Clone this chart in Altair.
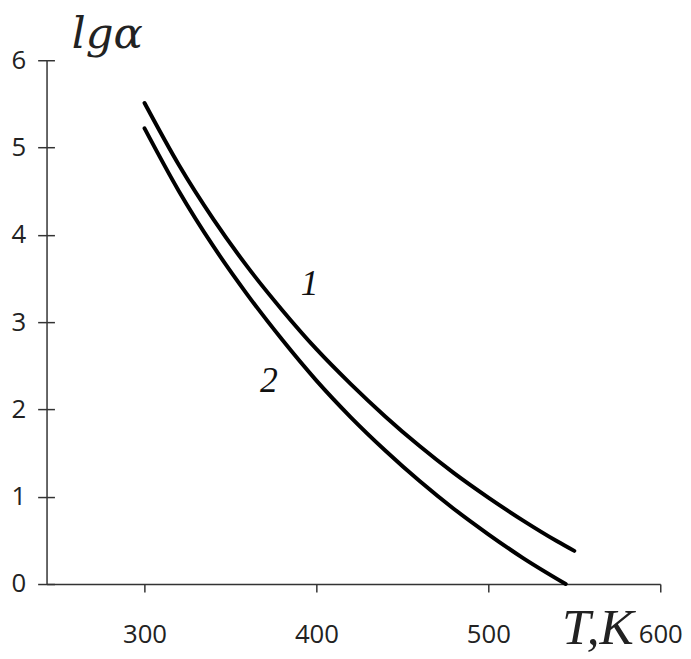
import altair as alt
import pandas as pd

# Curve 1
t1 = [300, 320, 340, 360, 380, 400, 420, 440, 460, 480, 500, 520, 540, 550]
lg1 = [5.51, 4.80, 4.18, 3.63, 3.14, 2.69, 2.29, 1.92, 1.58, 1.27, 0.99, 0.73, 0.49, 0.38]
# Curve 2
t2 = [300, 320, 340, 360, 380, 400, 420, 440, 460, 480, 500, 520, 545]
lg2 = [5.22, 4.50, 3.87, 3.31, 2.80, 2.33, 1.91, 1.53, 1.18, 0.86, 0.57, 0.30, 0.00]

label_text = ["1", "2"]
label_t = [396, 372.4]
label_lg = [3.44, 2.32]

x_ticks = [300, 400, 500, 600]
y_ticks = [0, 1, 2, 3, 4, 5, 6]

df = pd.DataFrame({
    "T": t1 + t2,
    "lg": lg1 + lg2,
    "curve": ["1"] * len(t1) + ["2"] * len(t2),
})
labels = pd.DataFrame({"T": label_t, "lg": label_lg, "text": label_text})

xs = alt.Scale(domain=[243, 600], nice=False, zero=False)
ys = alt.Scale(domain=[0, 6], nice=False, zero=False)

axis_color = "#333333"

x_axis = alt.Axis(
    values=x_ticks, grid=False, tickSize=8, tickColor=axis_color, tickWidth=1.5,
    domainColor=axis_color, domainWidth=1.5,
    labelFont="Open Sans", labelFontSize=26, labelColor="#222222", labelPadding=30,
    labelFlush=False,
    title="T,K", titleFont="Liberation Serif", titleFontStyle="italic",
    titleFontWeight="normal", titleFontSize=52, titleColor="#222222",
    titleAlign="left", titleBaseline="alphabetic", titleX=521, titleY=60,
)

lines = alt.Chart(df).mark_line(
    color="black", strokeWidth=4, interpolate="monotone", strokeCap="round"
).encode(
    x=alt.X("T:Q", scale=xs, axis=x_axis),
    y=alt.Y("lg:Q", scale=ys, axis=alt.Axis(
        orient="left", values=y_ticks, grid=False, tickSize=9, tickColor=axis_color, tickWidth=1.5,
        domainColor=axis_color, domainWidth=1.5,
        labelFont="Open Sans", labelFontSize=26, labelColor="#222222", labelPadding=12,
        title="lgα", titleFont="DejaVu Serif", titleFontStyle="italic",
        titleFontWeight="normal", titleFontSize=44, titleColor="#222222", titleAngle=0,
        titleAlign="left", titleBaseline="alphabetic", titleX=25, titleY=-13,
    )),
    detail="curve:N",
)

text = alt.Chart(labels).mark_text(
    font="Liberation Serif", fontStyle="italic", fontSize=36, color="#111111",
    align="center", baseline="middle",
).encode(
    x=alt.X("T:Q", scale=xs, axis=x_axis),
    y=alt.Y("lg:Q", scale=ys, axis=alt.Axis(
        orient="left", offset=-8, values=y_ticks, grid=False, labels=False, domain=False,
        tickSize=8, tickColor=axis_color, tickWidth=1.5, title=None,
    )),
    text="text:N",
)

chart = alt.layer(lines, text).resolve_axis(y="independent").properties(
    width=621, height=530,
    padding={"left": 39, "top": 49, "right": 23, "bottom": 72},
    autosize=alt.AutoSizeParams(type="none"),
    background="white",
).configure_view(strokeWidth=0)

chart.save("out.html", embed_options={"renderer": "svg", "actions": False})
